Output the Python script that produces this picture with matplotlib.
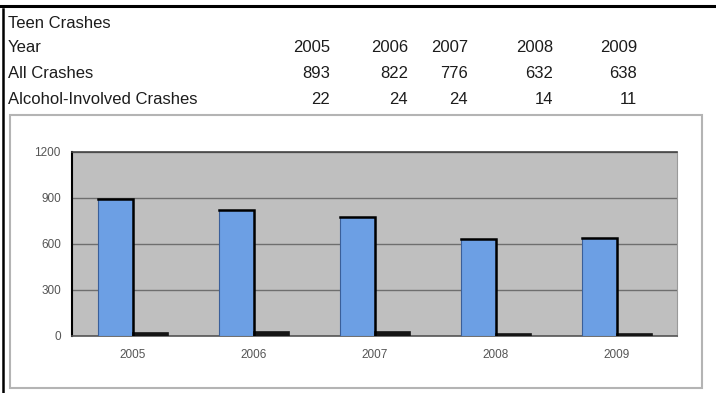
import matplotlib
matplotlib.use("Agg")
import matplotlib.pyplot as plt
from matplotlib.patches import Rectangle
from matplotlib.lines import Line2D
import numpy as np

plt.rcParams['font.family'] = ['Liberation Sans', 'DejaVu Sans']

years = ["2005", "2006", "2007", "2008", "2009"]
all_crashes = [893, 822, 776, 632, 638]
alcohol_crashes = [22, 24, 24, 14, 11]
y_ticks = [0, 300, 600, 900, 1200]
y_tick_labels = ["0", "300", "600", "900", "1200"]

W, H = 716, 393
fig = plt.figure(figsize=(W / 100, H / 100), dpi=100)
fig.patch.set_facecolor("white")


def px(x, y):
    """Pixel position (from top-left) to figure fraction."""
    return x / W, 1 - y / H


# Sheet frame: heavy rule on top and on the left
fig.add_artist(Line2D([0, 1], [px(0, 6)[1]] * 2, color="black", lw=2.2,
                      transform=fig.transFigure))
fig.add_artist(Line2D([px(3, 0)[0]] * 2, [px(0, 9)[1], 0], color="black",
                      lw=1.8, transform=fig.transFigure))

# Table above the chart
font_size = 12
text_color = "#1c1c1c"
row_y = [24, 47, 73, 99]
labels = ["Teen Crashes", "Year", "All Crashes", "Alcohol-Involved Crashes"]
for ry, lab in zip(row_y, labels):
    fig.text(*px(8, ry), lab, fontsize=font_size, va="center", color=text_color)
col_right = [330, 408, 468, 553, 637]
for xr, yr, a, b in zip(col_right, years, all_crashes, alcohol_crashes):
    for ry, s in zip(row_y[1:], [yr, str(a), str(b)]):
        fig.text(*px(xr, ry), s, fontsize=font_size, va="center", ha="right",
                 color=text_color)

# Chart frame
x0, y0 = px(10, 388)
x1, y1 = px(702, 115)
fig.add_artist(Rectangle((x0, y0), x1 - x0, y1 - y0, transform=fig.transFigure,
                         facecolor="white", edgecolor="#b4b4b4", lw=1.5,
                         zorder=0))

# Plot area
left, bottom = px(72, 336)
right, top = px(677, 152)
ax = fig.add_axes([left, bottom, right - left, top - bottom])
ax.set_facecolor("#bfbfbf")

x = np.arange(len(years))
w = 0.29
blue = ax.bar(x - 0.14, all_crashes, width=w, color="#6c9fe4",
              edgecolor="#3a5f9a", linewidth=0.8, zorder=3)
ax.bar(x + 0.15, alcohol_crashes, width=w, color="#151515",
       edgecolor="#151515", linewidth=1.2, zorder=3)

# dark outline on the top and right side of each blue bar
for p in blue.patches:
    bx, bw, bh = p.get_x(), p.get_width(), p.get_height()
    ax.plot([bx, bx + bw, bx + bw], [bh, bh, 0], color="black", lw=1.8,
            solid_joinstyle="miter", zorder=4)

ax.set_xlim(-0.5, len(years) - 0.5)
ax.set_ylim(0, 1200)
ax.set_yticks(y_ticks)
ax.set_yticklabels(y_tick_labels)
ax.set_xticks(x)
ax.set_xticklabels(years)
ax.tick_params(axis="both", length=0, labelsize=8.5, labelcolor="#555555")
ax.tick_params(axis="y", pad=8)
ax.tick_params(axis="x", pad=9)
ax.grid(axis="y", color="#6e6e6e", lw=1, zorder=1)
ax.spines["top"].set_color("#444444")
ax.spines["top"].set_linewidth(1.2)
ax.spines["right"].set_color("#9a9a9a")
ax.spines["left"].set_color("black")
ax.spines["left"].set_linewidth(1.5)
ax.spines["bottom"].set_color("#555555")
ax.spines["bottom"].set_linewidth(1.2)

fig.savefig("out.png", dpi=100, facecolor="white")
